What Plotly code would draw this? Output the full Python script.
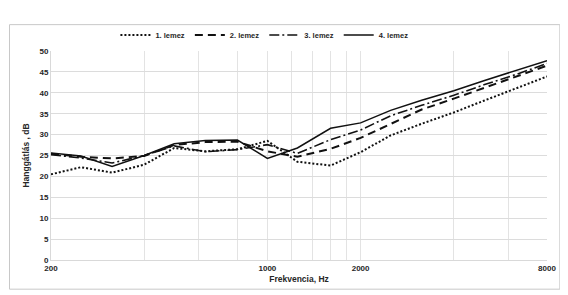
import plotly.graph_objects as go

freq = [200, 250, 315, 400, 500, 630, 800, 1000, 1250, 1600, 2000, 2500, 3150, 4000, 5000, 6300, 8000]
lemez1 = [20.5, 22.2, 20.9, 22.8, 26.8, 26.0, 26.5, 28.5, 23.5, 22.6, 25.8, 29.8, 32.6, 35.3, 38.1, 40.9, 43.9]
lemez2 = [25.4, 24.7, 24.3, 24.9, 27.5, 28.2, 28.3, 26.0, 24.7, 26.6, 29.2, 32.6, 36.0, 38.6, 41.2, 43.9, 46.5]
lemez3 = [25.2, 24.4, 23.2, 25.0, 27.3, 25.9, 26.4, 27.6, 25.5, 28.8, 31.1, 34.5, 37.0, 39.4, 41.9, 44.3, 47.0]
lemez4 = [25.6, 24.9, 22.4, 25.0, 27.8, 28.6, 28.7, 24.3, 26.8, 31.5, 32.8, 35.8, 38.2, 40.5, 42.9, 45.2, 47.7]

names = ["1. lemez", "2. lemez", "3. lemez", "4. lemez"]
series = [lemez1, lemez2, lemez3, lemez4]
dashes = ["2px,2px", "8px,5px", "10px,3px,2px,3px", "solid"]
widths = [2, 2, 1.6, 1.5]

grid_vals = [200, 400, 600, 800, 1000, 1200, 1400, 1600, 1800, 2000, 4000, 6000, 8000]
grid_text = ["200", "", "", "", "1000", "", "", "", "", "2000", "", "", "8000"]
y_ticks = [0, 5, 10, 15, 20, 25, 30, 35, 40, 45, 50]

FONT = "Liberation Sans, Arial, sans-serif"

fig = go.Figure()
for n, s, d, w in zip(names, series, dashes, widths):
    fig.add_trace(go.Scatter(x=freq, y=s, name=n, mode="lines",
                             line=dict(color="#111111", width=w, dash=d)))

# page body has an 8px margin, so the figure starts at (8, 8)
OFF = 8
W, H = 568 - OFF, 295 - OFF
ml, mr, mt, mb = 51 - OFF, 15, 38 - OFF, 35
pw, ph = W - ml - mr, H - mt - mb

def px(xp):
    return (xp - OFF - ml) / pw

def py(yp):
    return (H - mb - (yp - OFF)) / ph

fig.update_layout(
    width=W, height=H,
    margin=dict(l=ml, r=mr, t=mt, b=mb),
    paper_bgcolor="white", plot_bgcolor="white",
    font=dict(family=FONT, size=8, color="#262626", weight="bold"),
    showlegend=True,
    legend=dict(orientation="h", x=px(267), xanchor="center", y=py(21), yanchor="middle",
                font=dict(size=7.5, family=FONT, weight="bold"),
                itemwidth=30, tracegroupgap=0, bgcolor="rgba(0,0,0,0)"),
    xaxis=dict(type="log", range=[2.30103, 3.90309], tickvals=grid_vals, ticktext=grid_text,
               showgrid=True, gridcolor="#e3e3e3", gridwidth=1,
               showline=True, linecolor="#d9d9d9", linewidth=1, zeroline=False,
               ticks="", tickfont=dict(size=8, family=FONT, weight="bold", color="#262626"),
               title=dict(text="Frekvencia, Hz", standoff=4,
                          font=dict(size=8.5, family=FONT, weight="bold", color="#262626"))),
    yaxis=dict(range=[0, 50], tickvals=y_ticks,
               showgrid=True, gridcolor="#dcdcdc", gridwidth=1,
               showline=True, linecolor="#d9d9d9", linewidth=1, zeroline=False,
               ticks="", tickfont=dict(size=8, family=FONT, weight="bold", color="#262626"),
               title=dict(text="Hanggátlás , dB", standoff=8,
                          font=dict(size=8.5, family=FONT, weight="bold", color="#262626"))),
    shapes=[dict(type="rect", xref="paper", yref="paper",
                 x0=px(9), x1=px(566), y0=py(291), y1=py(10),
                 line=dict(color="#c8c8c8", width=1), fillcolor="rgba(0,0,0,0)", layer="above")],
)

fig.write_html("out.html")
